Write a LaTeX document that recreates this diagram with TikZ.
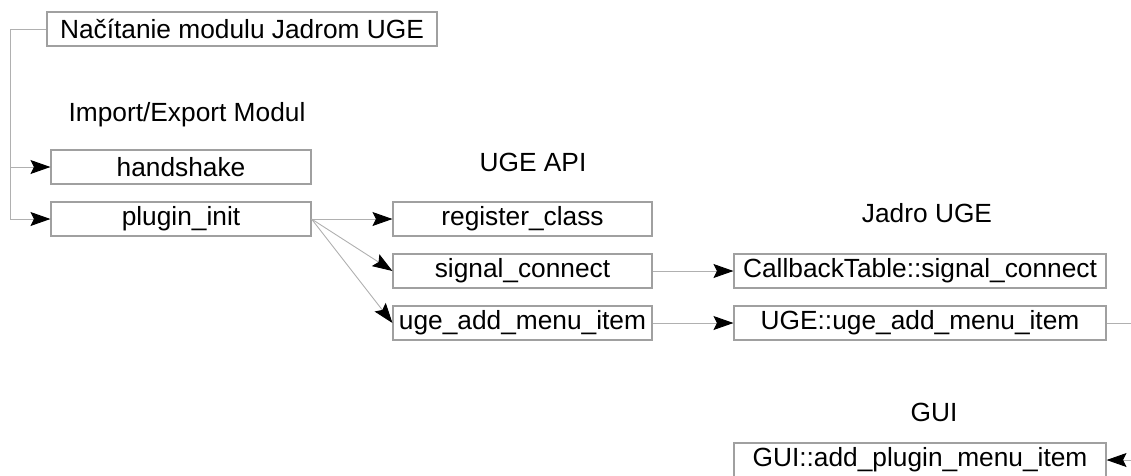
\documentclass[tikz,border=0pt]{standalone}
\usepackage{fontspec}
\setmainfont{Liberation Sans}
\usetikzlibrary{arrows.meta}
\definecolor{boxgray}{HTML}{A0A0A0}
\definecolor{linegray}{HTML}{B0B0B0}
\begin{document}
\begin{tikzpicture}[x=1pt,y=-1pt,
  box/.style={draw=boxgray,line width=1.1pt,rectangle,minimum height=34pt,inner sep=0pt,
    font=\fontsize{26.3}{31}\selectfont},
  lbl/.style={anchor=base,inner sep=0pt,font=\fontsize{26.3}{31}\selectfont},
  conn/.style={draw=linegray,line width=0.9pt},
  arr/.style={conn,-{Stealth[length=20pt,width=14pt,inset=3.5pt,color=black]}}]
\useasboundingbox (0,0) rectangle (1131,475);
\clip (0,0) rectangle (1131,475);
\node[box,minimum width=390pt] (load) at (242,29) {Načítanie modulu Jadrom UGE};
\node[lbl] (imp) at (187,121) {Import/Export Modul};
\node[box,minimum width=260pt] (hand) at (181,167) {handshake};
\node[box,minimum width=260pt] (plug) at (181,219) {plugin\_init};
\node[lbl] (api) at (533,171) {UGE API};
\node[box,minimum width=259pt] (reg) at (522.5,219) {register\_class};
\node[box,minimum width=259pt] (sig) at (522.5,271) {signal\_connect};
\node[box,minimum width=259pt] (add) at (522.5,323) {uge\_add\_menu\_item};
\node[lbl] (core) at (927,222) {Jadro UGE};
\node[box,minimum width=372pt] (cb) at (920,271) {CallbackTable::signal\_connect};
\node[box,minimum width=372pt] (uadd) at (920,323) {UGE::uge\_add\_menu\_item};
\node[lbl] (guil) at (934,421) {GUI};
\node[box,minimum width=372pt] (gui) at (920,460) {GUI::add\_plugin\_menu\_item};
\coordinate (bus) at (10,29);
\coordinate (off) at (1150,323);
\draw[arr] (load.west) -- (bus) |- (plug.west);
\draw[arr] (bus |- hand.west) -- (hand.west);
\draw[arr] (plug.east) -- (reg.west);
\draw[arr] (plug.east) -- (sig.west);
\draw[arr] (plug.east) -- (add.west);
\draw[arr] (sig.east) -- (cb.west);
\draw[arr] (add.east) -- (uadd.west);
\draw[arr] (uadd.east) -- (off) |- (gui.east);
\end{tikzpicture}
\end{document}
